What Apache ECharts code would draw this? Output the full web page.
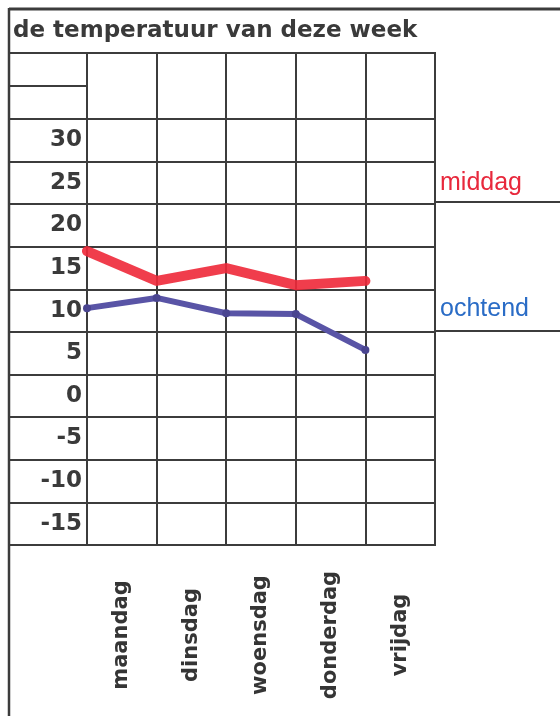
<!DOCTYPE html>
<html><head><meta charset="utf-8">
<script src="https://cdn.jsdelivr.net/npm/echarts@6/dist/echarts.min.js"></script>
<style>html,body{margin:0;padding:0;background:#fff}#c{width:560px;height:716px}</style>
</head><body><div id="c"></div>
<script>
const titleText = 'de temperatuur van deze week';
const days = ['maandag', 'dinsdag', 'woensdag', 'donderdag', 'vrijdag'];
const tempTicks = ['-15', '-10', '-5', '0', '5', '10', '15', '20', '25', '30'];
const middag = [17, 13.5, 15, 13, 13.5];
const ochtend = [10.3, 11.5, 9.7, 9.6, 5.4];
const seriesNames = ['middag', 'ochtend'];

const INK = '#3c3c3c';
const FONT = 'DejaVu Sans';
const gridLine = { show: true, interval: 0, lineStyle: { color: INK, width: 2 } };
const off = { show: false };
const gridBox = { show: true, borderColor: INK, borderWidth: 2, backgroundColor: 'transparent' };

const chart = echarts.init(document.getElementById('c'), null, { renderer: 'canvas' });
chart.setOption({
  backgroundColor: '#ffffff',
  animation: false,
  title: {
    text: titleText, left: 13, top: 18, padding: 0,
    textStyle: { fontFamily: FONT, fontWeight: 'bold', fontSize: 23, color: '#3a3a3a', lineHeight: 26 }
  },
  legend: [
    { data: [{ name: seriesNames[0], textStyle: { color: '#e8283c' } }], left: 435, top: 170, padding: 0,
      icon: 'none', itemWidth: 0, itemHeight: 26, selectedMode: false,
      textStyle: { fontFamily: 'Liberation Sans', fontSize: 25 } },
    { data: [{ name: seriesNames[1], textStyle: { color: '#2a6cc6' } }], left: 435, top: 296, padding: 0,
      icon: 'none', itemWidth: 0, itemHeight: 26, selectedMode: false,
      textStyle: { fontFamily: 'Liberation Sans', fontSize: 25 } }
  ],
  grid: [
    Object.assign({ left: 9, top: 119, width: 78, height: 426 }, gridBox),
    Object.assign({ left: 87, top: 119, width: 348, height: 426 }, gridBox),
    Object.assign({ left: 87, top: 53, width: 348, height: 66 }, gridBox),
    Object.assign({ left: 9, top: 53, width: 78, height: 66 }, gridBox)
  ],
  xAxis: [
    { gridIndex: 0, type: 'value', show: false },
    { gridIndex: 1, type: 'category', data: days, boundaryGap: true, position: 'bottom',
      axisLine: off, axisTick: off, splitLine: gridLine,
      axisLabel: { interval: 0, rotate: 90, align: 'center', verticalAlign: 'middle', margin: 90,
        fontFamily: FONT, fontWeight: 'bold', fontSize: 21, color: '#353535' } },
    { gridIndex: 1, type: 'category', data: days.concat(['']), boundaryGap: false, show: false },
    { gridIndex: 2, type: 'category', data: days, boundaryGap: true,
      axisLine: off, axisTick: off, axisLabel: off, splitLine: gridLine },
    { gridIndex: 3, type: 'value', show: false }
  ],
  yAxis: [
    { gridIndex: 0, type: 'category', data: tempTicks, boundaryGap: true, position: 'right',
      axisLine: off, axisTick: off, splitLine: gridLine,
      axisLabel: { interval: 0, inside: true, margin: 5, fontFamily: FONT, fontWeight: 'bold', fontSize: 23, color: '#3a3a3a' } },
    { gridIndex: 1, type: 'category', data: tempTicks, boundaryGap: true,
      axisLine: off, axisTick: off, axisLabel: off, splitLine: gridLine },
    { gridIndex: 1, type: 'value', min: -17.5, max: 32.5, show: false, splitLine: off },
    { gridIndex: 2, type: 'value', show: false },
    { gridIndex: 3, type: 'category', data: ['', ''], boundaryGap: true,
      axisLine: off, axisTick: off, axisLabel: off, splitLine: gridLine }
  ],
  series: [
    { name: seriesNames[0], type: 'line', xAxisIndex: 2, yAxisIndex: 2, data: middag, clip: false,
      symbol: 'none', color: '#ec2a3a',
      lineStyle: { color: 'rgba(238,40,56,0.9)', width: 10, cap: 'round', join: 'round' }, z: 5 },
    { name: seriesNames[1], type: 'line', xAxisIndex: 2, yAxisIndex: 2, data: ochtend, clip: false,
      symbol: 'circle', symbolSize: 8, color: '#4a4590',
      itemStyle: { color: '#4a4590' },
      lineStyle: { color: '#5954a6', width: 6, cap: 'round', join: 'round' }, z: 4 }
  ],
  graphic: [
    { type: 'line', shape: { x1: 9, y1: 9, x2: 560, y2: 9 }, style: { stroke: INK, lineWidth: 3 } },
    { type: 'line', shape: { x1: 9, y1: 8, x2: 9, y2: 716 }, style: { stroke: INK, lineWidth: 2.5 } },
    { type: 'line', shape: { x1: 435, y1: 202, x2: 560, y2: 202 }, style: { stroke: INK, lineWidth: 2 } },
    { type: 'line', shape: { x1: 435, y1: 331, x2: 560, y2: 331 }, style: { stroke: INK, lineWidth: 2 } }
  ]
});
</script>
</body></html>
